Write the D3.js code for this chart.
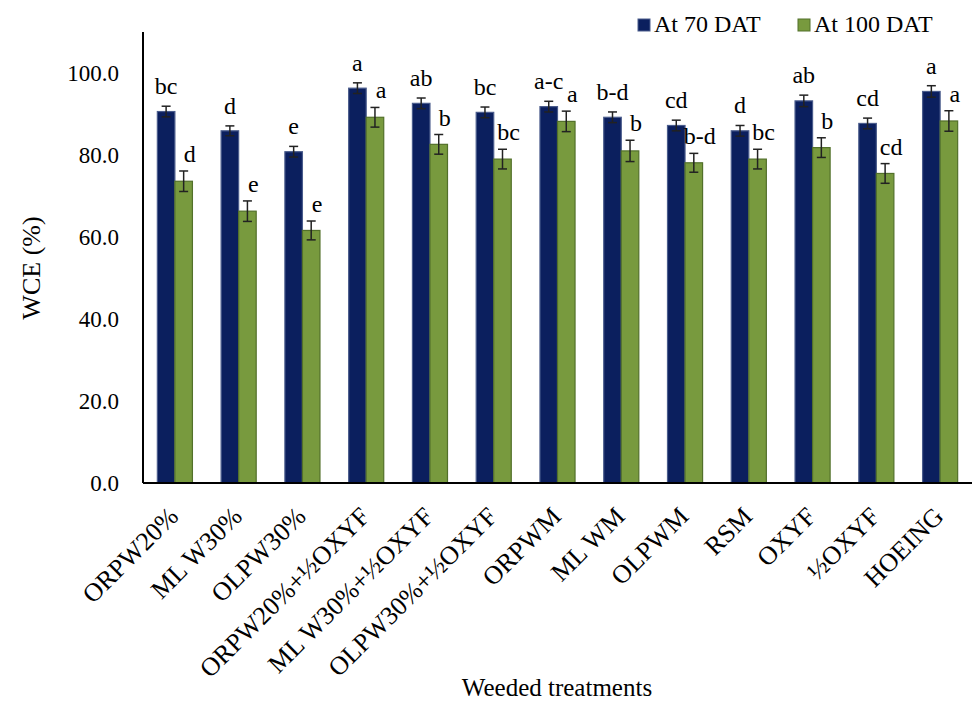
<!DOCTYPE html>
<html>
<head>
<meta charset="utf-8">
<script src="https://cdn.jsdelivr.net/npm/d3@7"></script>
<style>
  body { margin: 0; background: #fff; }
  svg text { font-family: "Liberation Serif", "DejaVu Serif", serif; fill: #000; }
</style>
</head>
<body>
<svg width="974" height="703"></svg>
<script>
const treatments = ["ORPW20%", "ML W30%", "OLPW30%", "ORPW20%+½OXYF", "ML W30%+½OXYF",
  "OLPW30%+½OXYF", "ORPWM", "ML WM", "OLPWM", "RSM", "OXYF", "½OXYF", "HOEING"];
const series = ["At 70 DAT", "At 100 DAT"];
const wce70 = [90.6, 85.9, 80.8, 96.3, 92.6, 90.4, 91.8, 89.2, 87.2, 85.9, 93.2, 87.7, 95.5];
const wce100 = [73.6, 66.3, 61.6, 89.2, 82.6, 79.0, 88.2, 81.0, 78.1, 79.0, 81.8, 75.5, 88.3];
const err70 = [1.3, 1.2, 1.3, 1.3, 1.3, 1.3, 1.3, 1.3, 1.3, 1.3, 1.4, 1.3, 1.4];
const err100 = [2.5, 2.5, 2.3, 2.4, 2.4, 2.4, 2.5, 2.6, 2.3, 2.4, 2.4, 2.4, 2.5];
const letters70 = ["bc", "d", "e", "a", "ab", "bc", "a-c", "b-d", "cd", "d", "ab", "cd", "a"];
const letters100 = ["d", "e", "e", "a", "b", "bc", "a", "b", "b-d", "bc", "b", "cd", "a"];
const yTicks = [0, 20, 40, 60, 80, 100];

const colors = { fill: ["#0b1f5e", "#789a3e"], stroke: ["#4a5c8c", "#52702a"] };

const svg = d3.select("svg");
const x0 = 143, x1 = 972, yBase = 483;

const x = d3.scaleBand().domain(treatments).range([x0, x1]).paddingInner(0.45).paddingOuter(0.225);
const xs = d3.scaleBand().domain(series).range([0, x.bandwidth()]);
const y = d3.scaleLinear().domain([0, 110]).range([yBase, 32]);

const rows = treatments.map((t, i) => [
  { t, s: 0, v: wce70[i], e: err70[i], l: letters70[i] },
  { t, s: 1, v: wce100[i], e: err100[i], l: letters100[i] }
]).flat();

// bars
svg.append("g").selectAll("rect").data(rows).join("rect")
  .attr("x", d => x(d.t) + xs(series[d.s]))
  .attr("y", d => y(d.v))
  .attr("width", xs.bandwidth())
  .attr("height", d => yBase - y(d.v))
  .attr("fill", d => colors.fill[d.s])
  .attr("stroke", d => colors.stroke[d.s])
  .attr("stroke-width", 1.2);

// error bars
const eb = svg.append("g").attr("stroke", "#222").attr("stroke-width", 1.5);
rows.forEach(d => {
  const cx = x(d.t) + xs(series[d.s]) + xs.bandwidth() / 2;
  eb.append("line").attr("x1", cx).attr("x2", cx).attr("y1", y(d.v + d.e)).attr("y2", y(d.v - d.e));
  eb.append("line").attr("x1", cx - 4.5).attr("x2", cx + 4.5).attr("y1", y(d.v + d.e)).attr("y2", y(d.v + d.e));
  eb.append("line").attr("x1", cx - 4.5).attr("x2", cx + 4.5).attr("y1", y(d.v - d.e)).attr("y2", y(d.v - d.e));
});

// letters
svg.append("g").selectAll("text").data(rows).join("text")
  .attr("x", d => x(d.t) + xs(series[d.s]) + xs.bandwidth() / 2 + (d.s ? 6 : 0))
  .attr("y", d => y(d.v + d.e) - (d.s ? 9 : 12))
  .attr("text-anchor", "middle")
  .attr("font-size", 24)
  .text(d => d.l);

// axes
const yAxis = svg.append("g").attr("transform", `translate(${x0},0)`)
  .call(d3.axisLeft(y).tickValues(yTicks).tickSize(0).tickPadding(24).tickFormat(d3.format(".1f")));
yAxis.attr("font-family", null);
yAxis.select(".domain").attr("d", `M0,32V${yBase}`).attr("stroke", "#000").attr("stroke-width", 2);
yAxis.selectAll("text").attr("font-size", 23);

svg.append("line").attr("x1", x0).attr("x2", x1).attr("y1", yBase).attr("y2", yBase)
  .attr("stroke", "#000").attr("stroke-width", 2);

svg.append("g").selectAll("text").data(treatments).join("text")
  .attr("transform", d => `translate(${x(d) + x.bandwidth() / 2 + 5},518) rotate(-45)`)
  .attr("text-anchor", "end")
  .attr("font-size", 26)
  .text(d => d);

// titles
svg.append("text").attr("transform", "translate(40,268) rotate(-90)")
  .attr("text-anchor", "middle").attr("font-size", 26).text("WCE (%)");
svg.append("text").attr("x", 557).attr("y", 696)
  .attr("text-anchor", "middle").attr("font-size", 25).text("Weeded treatments");

// legend
const legendX = [638, 798];
const lg = svg.append("g").selectAll("g").data(series).join("g")
  .attr("transform", (d, i) => `translate(${legendX[i]},0)`);
lg.append("rect").attr("x", 0).attr("y", 19).attr("width", 12).attr("height", 12)
  .attr("fill", (d, i) => colors.fill[i]).attr("stroke", (d, i) => colors.stroke[i]);
lg.append("text").attr("x", 16).attr("y", 32).attr("font-size", 24).text(d => d);
</script>
</body>
</html>
